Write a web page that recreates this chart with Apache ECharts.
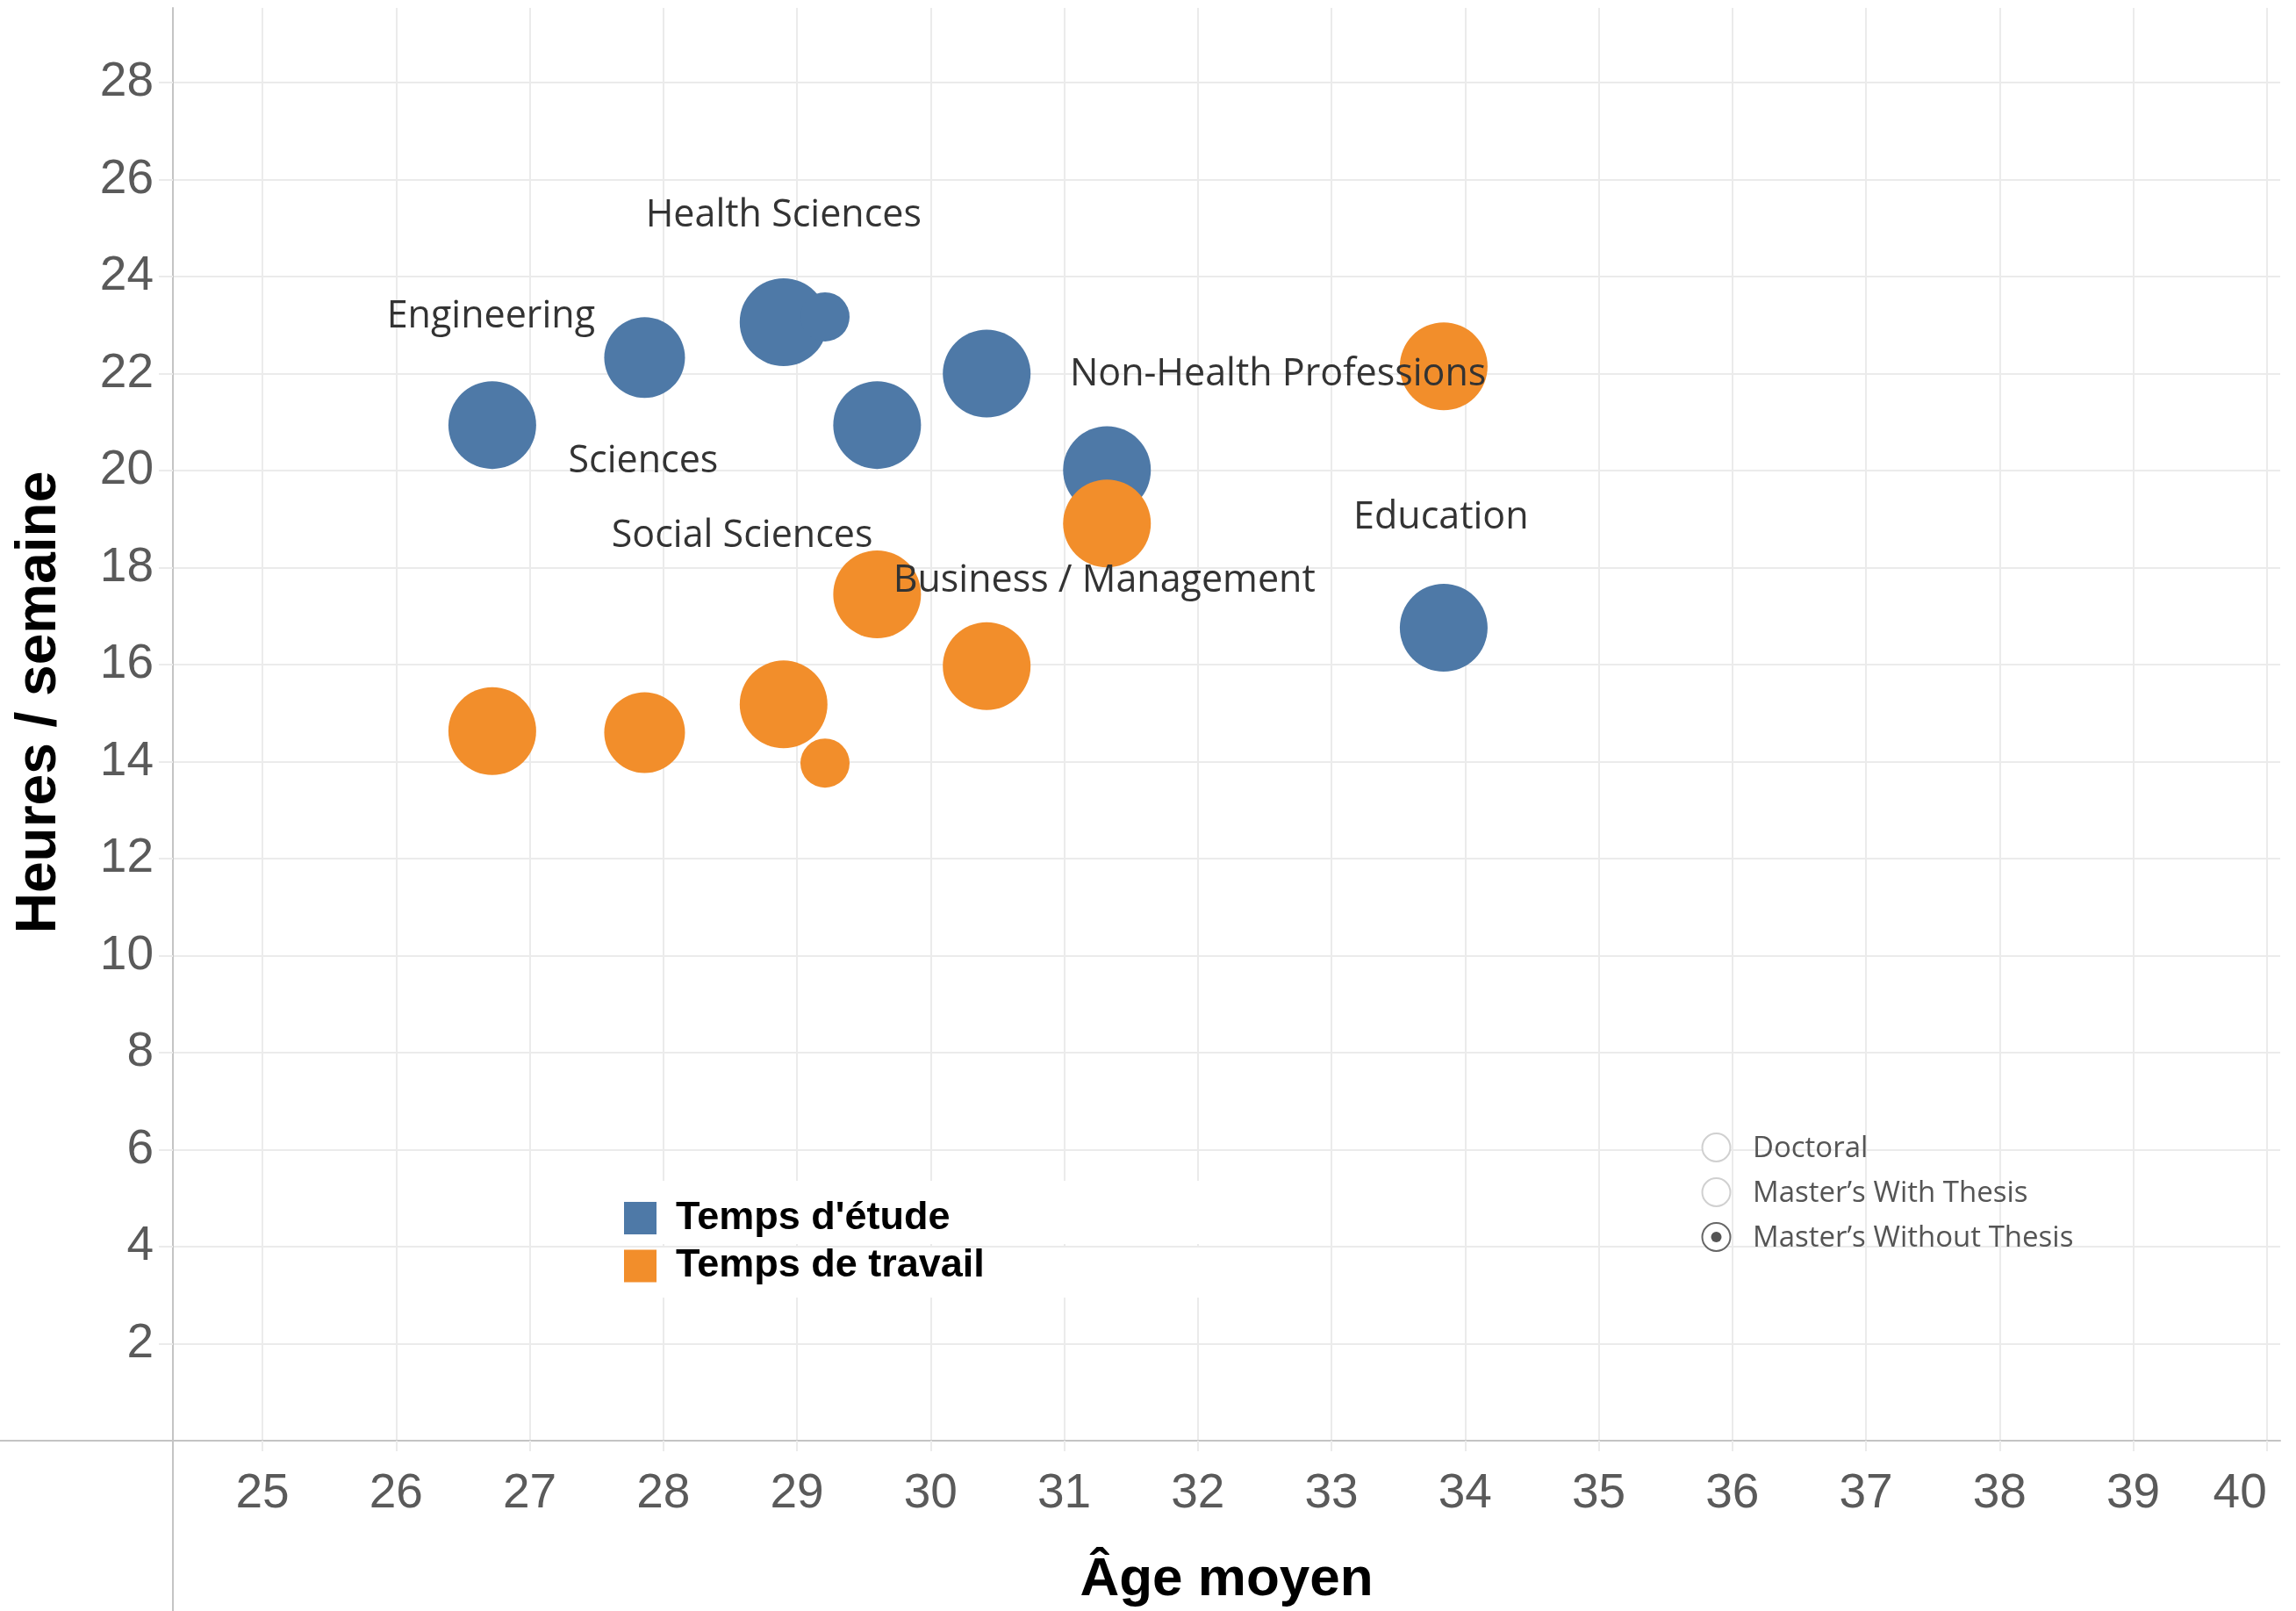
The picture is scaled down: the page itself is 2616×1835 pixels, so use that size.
<!DOCTYPE html>
<html>
<head>
<meta charset="utf-8">
<script src="https://cdn.jsdelivr.net/npm/echarts@6/dist/echarts.min.js"></script>
<style>
  html, body { margin: 0; padding: 0; background: #ffffff; }
  #chart { width: 2616px; height: 1835px; }
</style>
</head>
<body>
<div id="chart"></div>
<script>
// ---------- data ----------
const ageMoyen      = [26.72, 27.86, 28.90, 29.21, 29.60, 30.42, 31.32, 33.84];
const tempsEtude    = [20.94, 22.33, 23.06, 23.17, 20.94, 22.00, 20.01, 16.76];
const tempsTravail  = [14.63, 14.60, 15.18, 13.97, 17.45, 15.97, 18.91, 22.15];
const bubbleWeight  = [1.00, 0.92, 1.00, 0.56, 1.00, 1.00, 1.00, 1.00];

const labelNames = ['Health Sciences', 'Engineering', 'Sciences', 'Social Sciences',
                    'Business / Management', 'Non-Health Professions', 'Education'];
const labelAge   = [28.90, 26.71, 27.85, 28.59, 31.30, 32.60, 33.82];
const labelHours = [25.26, 23.17, 20.19, 18.65, 17.72, 21.97, 19.02];

const xTicks = [25, 26, 27, 28, 29, 30, 31, 32, 33, 34, 35, 36, 37, 38, 39, 40];
const yTicks = [2, 4, 6, 8, 10, 12, 14, 16, 18, 20, 22, 24, 26, 28];

const seriesNames = ["Temps d'étude", 'Temps de travail'];
const niveaux = ['Doctoral', 'Master’s With Thesis', 'Master’s Without Thesis'];
const niveauChoisi = 2;

// ---------- layout / style ----------
const W = 2616, H = 1835;
const GRID = { left: 197, right: 18, top: 9, bottom: 194 };
const AXIS_Y = H - GRID.bottom;
const BLUE = '#4e79a7', ORANGE = '#f28e2b';
const GRIDCOL = '#ebebeb', AXISCOL = '#c4c4c4', TICKTXT = '#5a5a5a';
const BUBBLE = 100;

const chart = echarts.init(document.getElementById('chart'), null, { renderer: 'canvas' });

const bubbleData = (ys) => ageMoyen.map((x, i) => ({ value: [x, ys[i]], symbolSize: bubbleWeight[i] * BUBBLE }));

const radioGraphics = [];
niveaux.forEach((n, i) => {
  const cy = 1307 + i * 51;
  radioGraphics.push({
    type: 'circle', shape: { cx: 1955.5, cy: cy, r: 16 }, z: 5,
    style: { fill: '#fff', stroke: i === niveauChoisi ? '#666' : '#d0d0d0', lineWidth: 2 }
  });
  if (i === niveauChoisi) {
    radioGraphics.push({ type: 'circle', shape: { cx: 1955.5, cy: cy, r: 6 }, z: 6, style: { fill: '#555' } });
  }
  radioGraphics.push({
    type: 'text', x: 1997, y: cy + 2, z: 5,
    style: { text: n, fill: '#555', font: '33px "Open Sans"', textAlign: 'left', textVerticalAlign: 'middle' }
  });
});

const option = {
  animation: false,
  backgroundColor: '#ffffff',
  grid: { left: GRID.left, right: GRID.right, top: GRID.top, bottom: GRID.bottom, containLabel: false, outerBoundsMode: 'none' },
  xAxis: {
    type: 'value', min: 24.33, max: 40.10,
    name: 'Âge moyen', nameLocation: 'middle', nameGap: 128,
    nameTextStyle: { color: '#000', fontFamily: 'Liberation Sans', fontWeight: 'bold', fontSize: 62 },
    axisLine: { show: true, onZero: false, lineStyle: { color: AXISCOL, width: 2 } },
    axisTick: { show: true, length: 12, customValues: xTicks, lineStyle: { color: GRIDCOL, width: 2 } },
    axisLabel: { customValues: xTicks, margin: 33, color: TICKTXT, fontFamily: 'Liberation Sans', fontSize: 55, alignMaxLabel: 'right' },
    splitLine: { show: true, lineStyle: { color: GRIDCOL, width: 2 } }
  },
  yAxis: {
    type: 'value', min: 0, max: 29.54,
    axisLine: { show: true, onZero: false, lineStyle: { color: AXISCOL, width: 2 } },
    axisTick: { show: true, length: 16, customValues: yTicks, lineStyle: { color: GRIDCOL, width: 2 } },
    axisLabel: { customValues: yTicks, margin: 22, color: TICKTXT, fontFamily: 'Liberation Sans', fontSize: 55 },
    splitLine: { show: true, lineStyle: { color: GRIDCOL, width: 2 } }
  },
  legend: {
    data: seriesNames, orient: 'vertical', left: 711, top: 1365, padding: 0,
    itemWidth: 37, itemHeight: 37, itemGap: 9.5, icon: 'rect', selectedMode: false,
    textStyle: { color: '#000', fontFamily: 'Liberation Sans', fontWeight: 'bold', fontSize: 45, padding: [0, 0, 0, 17] }
  },
  graphic: [
    { type: 'rect', z: 1, shape: { x: 690, y: 1345, width: 681, height: 72 }, style: { fill: '#fff' }, silent: true },
    { type: 'rect', z: 1, shape: { x: 690, y: 1421, width: 681, height: 57 }, style: { fill: '#fff' }, silent: true },
    { type: 'line', z: 3, shape: { x1: 0, y1: AXIS_Y, x2: GRID.left, y2: AXIS_Y }, style: { stroke: AXISCOL, lineWidth: 2 }, silent: true },
    { type: 'line', z: 3, shape: { x1: GRID.left, y1: AXIS_Y, x2: GRID.left, y2: H }, style: { stroke: AXISCOL, lineWidth: 2 }, silent: true },
    { type: 'text', x: 45, y: 800, rotation: Math.PI / 2, z: 5,
      style: { text: 'Heures / semaine', fill: '#000', font: 'bold 64px "Liberation Sans"', textAlign: 'center', textVerticalAlign: 'middle' } },
    ...radioGraphics
  ],
  series: [
    {
      name: seriesNames[0], type: 'scatter', z: 3,
      itemStyle: { color: BLUE, opacity: 1 },
      emphasis: { disabled: true },
      data: bubbleData(tempsEtude)
    },
    {
      name: seriesNames[1], type: 'scatter', z: 4,
      itemStyle: { color: ORANGE, opacity: 1 },
      emphasis: { disabled: true },
      data: bubbleData(tempsTravail)
    },
    {
      name: 'labels', type: 'scatter', z: 6, silent: true, symbolSize: 1,
      itemStyle: { color: 'rgba(255,255,255,0)' },
      label: { show: true, position: 'inside', formatter: '{b}', color: '#333', fontFamily: 'Open Sans', fontSize: 43, opacity: 1 },
      labelLayout: { hideOverlap: false },
      emphasis: { disabled: true },
      data: labelAge.map((x, i) => ({ name: labelNames[i], value: [x, labelHours[i]] }))
    }
  ]
};
chart.setOption(option);
</script>
</body>
</html>
